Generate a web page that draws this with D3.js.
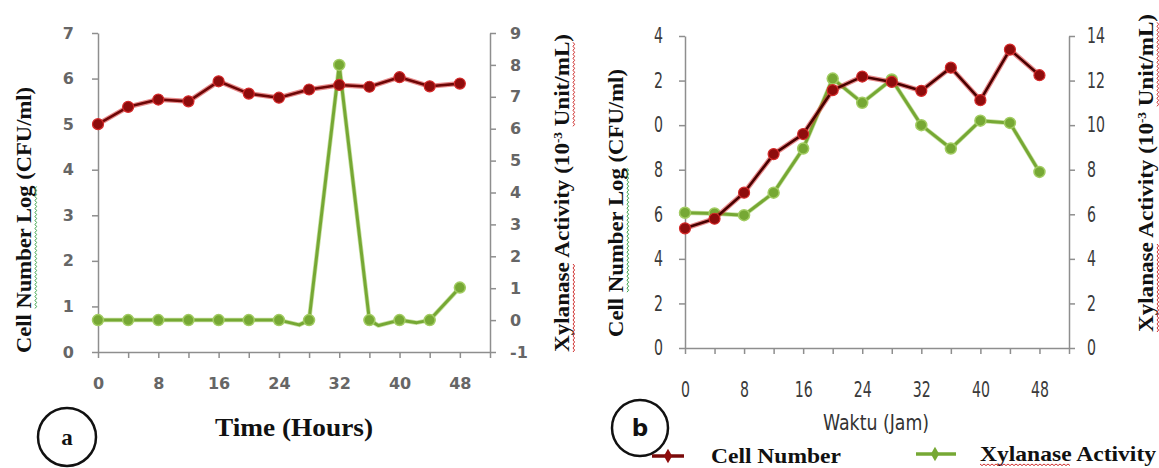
<!DOCTYPE html>
<html>
<head>
<meta charset="utf-8">
<script src="https://cdn.jsdelivr.net/npm/d3@7"></script>
<style>
    body { margin: 0; background: #fff; }
    svg { display: block; }
</style>
</head>
<body>
<div id="chart"></div>
<script>
// Panel a: Time (Hours)
const hoursA = [0, 4, 8, 12, 16, 20, 24, 28, 32, 36, 40, 44, 48];
const cellA = [5.0, 5.38, 5.54, 5.5, 5.94, 5.67, 5.58, 5.76, 5.86, 5.82, 6.03, 5.83, 5.89];
const xylHoursA = [0, 4, 8, 12, 16, 20, 24, 26.7, 28, 32, 36, 37.2, 40, 42.3, 44, 48];
const xylA = [0, 0, 0, 0, 0, 0, 0, -0.15, 0, 8.0, 0, -0.17, 0, -0.08, 0, 1.02];
const leftTicksA = [0, 1, 2, 3, 4, 5, 6, 7];
const rightTicksA = [-1, 0, 1, 2, 3, 4, 5, 6, 7, 8, 9];
const xLabelsA = [0, 8, 16, 24, 32, 40, 48];

// Panel b: Waktu (Jam)
const hoursB = [0, 4, 8, 12, 16, 20, 24, 28, 32, 36, 40, 44, 48];
const cellB = [5.37, 5.8, 6.97, 8.7, 9.6, 11.57, 12.18, 11.94, 11.54, 12.58, 11.12, 13.39, 12.24];
const xylB = [6.07, 6.04, 5.96, 6.97, 8.95, 12.09, 11.0, 12.05, 10.0, 8.95, 10.2, 10.1, 7.9];
const leftTicksB = [0, 2, 4, 6, 8, 10, 12, 14];
const leftTickTextB = ["0", "2", "4", "6", "8", "0", "2", "4"]; // clipped labels as printed
const rightTicksB = [0, 2, 4, 6, 8, 10, 12, 14];
const xLabelsB = [0, 8, 16, 24, 32, 40, 48];

// shared category ticks (one slot past the last sample)
const categoryTicks = [0, 4, 8, 12, 16, 20, 24, 28, 32, 36, 40, 44, 48, 52];

const colors = {
    cell: "#7a0a0a",
    cellHalo: "#d42a2a",
    xyl: "#76a834",
    xylLight: "#a2cc62",
    axis: "#8e8e8e",
    tick: "#666"
};

const serif = "'Liberation Serif', 'Times New Roman', serif";
const narrow = "'DejaVu Sans', sans-serif";
const wide = "'DejaVu Sans', Verdana, sans-serif";

const svg = d3.select("#chart").append("svg")
    .attr("width", 1159)
    .attr("height", 468);

function styleAxis(g, cfg) {
    g.selectAll("path, line").attr("stroke", colors.axis).attr("stroke-width", 1.5);
    const txt = g.selectAll("text")
        .attr("fill", cfg.tickColor)
        .style("font-family", cfg.tickFont)
        .style("font-weight", cfg.tickWeight)
        .style("font-size", cfg.tickSize + "px");
    // squeeze glyphs for the narrow (Calibri-like) panel
    if (cfg.digitWidth) {
        txt.each(function () {
            const n = this.textContent.length;
            if (n) d3.select(this).attr("textLength", n * cfg.digitWidth).attr("lengthAdjust", "spacingAndGlyphs");
        });
    }
}

function drawPanel(cfg) {
    const x = d3.scaleLinear().domain([0, 52]).range([cfg.left, cfg.right]);
    const yL = d3.scaleLinear().domain(cfg.leftDomain).range([cfg.bottom, cfg.top]);
    const yR = d3.scaleLinear().domain(cfg.rightDomain).range([cfg.bottom, cfg.top]);

    // x axis ticks
    const gx = svg.append("g")
        .attr("transform", `translate(0,${cfg.bottom})`)
        .call(d3.axisBottom(x).tickValues(categoryTicks).tickSize(6).tickSizeOuter(0).tickFormat(""));
    styleAxis(gx, cfg);

    // x labels
    const gxl = svg.append("g")
        .attr("transform", `translate(0,${cfg.bottom})`)
        .call(d3.axisBottom(x).tickValues(cfg.xLabels).tickSize(0).tickPadding(cfg.xPad));
    gxl.select(".domain").remove();
    styleAxis(gxl, cfg);

    // left axis
    const gl = svg.append("g")
        .attr("transform", `translate(${cfg.left},0)`)
        .call(d3.axisLeft(yL).tickValues(cfg.leftTicks).tickSize(6).tickSizeOuter(0)
            .tickPadding(cfg.leftPad)
            .tickFormat((d, i) => cfg.leftText ? cfg.leftText[i] : d));
    styleAxis(gl, cfg);

    // right axis
    const gr = svg.append("g")
        .attr("transform", `translate(${cfg.right},0)`)
        .call(d3.axisRight(yR).tickValues(cfg.rightTicks).tickSize(6).tickSizeOuter(0)
            .tickPadding(cfg.rightPad)
            .tickFormat(d => d < 0 ? "-" + Math.abs(d) : d));
    styleAxis(gr, cfg);

    const cellData = cfg.cellHours.map((h, i) => ({ h, v: cfg.cell[i] }));
    const xylData = cfg.xylHours.map((h, i) => ({ h, v: cfg.xyl[i] }));

    const lineL = d3.line().x(d => x(d.h)).y(d => yL(d.v));
    const lineR = d3.line().x(d => x(d.h)).y(d => yR(d.v));

    // Xylanase (right axis)
    svg.append("path").datum(xylData)
        .attr("fill", "none").attr("stroke", colors.xylLight).attr("stroke-width", 4.5)
        .attr("stroke-linejoin", "round").attr("opacity", 0.6).attr("d", lineR);
    svg.append("path").datum(xylData)
        .attr("fill", "none").attr("stroke", colors.xyl).attr("stroke-width", 3)
        .attr("stroke-linejoin", "round").attr("d", lineR);
    svg.append("g").selectAll("circle")
        .data(xylData.filter(d => d.h % 4 === 0))
        .join("circle")
        .attr("cx", d => x(d.h)).attr("cy", d => yR(d.v))
        .attr("r", cfg.markerR)
        .attr("fill", colors.xyl).attr("stroke", colors.xylLight).attr("stroke-width", 1.5);

    // Cell number (left axis)
    svg.append("path").datum(cellData)
        .attr("fill", "none").attr("stroke", colors.cellHalo).attr("stroke-width", 5)
        .attr("stroke-linejoin", "round").attr("opacity", 0.55).attr("d", lineL);
    svg.append("path").datum(cellData)
        .attr("fill", "none").attr("stroke", cfg.cellCore).attr("stroke-width", 2.6)
        .attr("stroke-linejoin", "round").attr("d", lineL);
    svg.append("g").selectAll("circle")
        .data(cellData)
        .join("circle")
        .attr("cx", d => x(d.h)).attr("cy", d => yL(d.v))
        .attr("r", cfg.markerR)
        .attr("fill", "#8e0c0c").attr("stroke", colors.cellHalo).attr("stroke-width", 1.2);
}

drawPanel({
    left: 98, right: 490, top: 33, bottom: 352,
    leftDomain: [0, 7], rightDomain: [-1, 9],
    leftTicks: leftTicksA, rightTicks: rightTicksA, xLabels: xLabelsA,
    cellHours: hoursA, cell: cellA, xylHours: xylHoursA, xyl: xylA,
    tickFont: wide, tickWeight: "bold", tickSize: 16, tickColor: colors.tick,
    xPad: 26, leftPad: 18, rightPad: 14,
    markerR: 5.5, cellCore: "#6e0606"
});

drawPanel({
    left: 685, right: 1069, top: 36, bottom: 348,
    leftDomain: [0, 14], rightDomain: [0, 14],
    leftTicks: leftTicksB, leftText: leftTickTextB, rightTicks: rightTicksB, xLabels: xLabelsB,
    cellHours: hoursB, cell: cellB, xylHours: hoursB, xyl: xylB,
    tickFont: narrow, tickWeight: "normal", tickSize: 21, tickColor: "#3a3a3a", digitWidth: 9,
    xPad: 34, leftPad: 16, rightPad: 12,
    markerR: 5.5, cellCore: "#4a0000"
});

// spell-check style wavy underline below a run of characters of a text node
function squiggle(parent, textNode, from, to, color, offset) {
    const x0 = textNode.getStartPositionOfChar(from).x;
    const x1 = textNode.getEndPositionOfChar(to).x;
    const y0 = textNode.getStartPositionOfChar(from).y + offset;
    let d = `M${x0},${y0}`;
    for (let xx = x0 + 2, k = 1; xx <= x1; xx += 2, k++) {
        d += `L${xx},${y0 + (k % 2 ? 1.6 : 0)}`;
    }
    parent.append("path").attr("d", d)
        .attr("fill", "none").attr("stroke", color).attr("stroke-width", 1);
}

// Axis titles
function vLabel(xPos, yMid, len, parts, marks) {
    const g = svg.append("g").attr("transform", `translate(${xPos},${yMid}) rotate(-90)`);
    const t = g.append("text")
        .attr("text-anchor", "middle")
        .attr("textLength", len)
        .attr("lengthAdjust", "spacingAndGlyphs")
        .style("font-family", serif)
        .style("font-weight", "bold")
        .style("font-size", "21px")
        .attr("fill", "#111");
    parts.forEach(p => {
        const s = t.append("tspan").text(p.text);
        if (p.sup) s.attr("dy", -7).style("font-size", "12px");
        if (p.after) s.attr("dy", 7);
    });
    marks.forEach(m => squiggle(g, t.node(), m[0], m[1], m[2], 4));
}

const cellTitle = [{ text: "Cell Number Log (CFU/ml)" }];
const cellMarks = [[5, 14, "#3aa34a"]];
const xylTitle = [{ text: "Xylanase Activity (10" }, { text: "-3", sup: true }, { text: " Unit/mL)", after: true }];
const xylMarks = [[0, 7, "#d03030"], [24, 30, "#d03030"]];

vLabel(31, 220, 266, cellTitle, cellMarks);
vLabel(569, 193, 318, xylTitle, xylMarks);
vLabel(623, 203, 268, cellTitle, cellMarks);
vLabel(1153, 173, 318, xylTitle, xylMarks);

// x titles
svg.append("text")
    .attr("x", 294).attr("y", 436)
    .attr("text-anchor", "middle")
    .attr("textLength", 158).attr("lengthAdjust", "spacingAndGlyphs")
    .style("font-family", serif).style("font-weight", "bold").style("font-size", "25px")
    .attr("fill", "#111")
    .text("Time (Hours)");

svg.append("text")
    .attr("x", 876).attr("y", 430)
    .attr("text-anchor", "middle")
    .attr("textLength", 106).attr("lengthAdjust", "spacingAndGlyphs")
    .style("font-family", narrow).style("font-size", "22px")
    .attr("fill", "#333")
    .text("Waktu (Jam)");

// panel badges
[{ cx: 67, cy: 437, r: 29, t: "a", font: serif }, { cx: 640, cy: 428, r: 28, t: "b", font: wide }]
    .forEach(b => {
        svg.append("circle").attr("cx", b.cx).attr("cy", b.cy).attr("r", b.r)
            .attr("fill", "none").attr("stroke", "#111").attr("stroke-width", 2.5);
        svg.append("text").attr("x", b.cx).attr("y", b.cy + 8)
            .attr("text-anchor", "middle")
            .style("font-family", b.font).style("font-weight", "bold").style("font-size", "23px")
            .attr("fill", "#111").text(b.t);
    });

// Legend
const legend = svg.append("g");
legend.append("line").attr("x1", 652).attr("x2", 684).attr("y1", 456).attr("y2", 456)
    .attr("stroke", colors.cell).attr("stroke-width", 3.5);
legend.append("path").attr("transform", "translate(668,456)")
    .attr("d", d3.symbol(d3.symbolDiamond, 60)).attr("fill", "#8e0c0c");
legend.append("text").attr("x", 711).attr("y", 463)
    .attr("textLength", 130).attr("lengthAdjust", "spacingAndGlyphs")
    .style("font-family", serif).style("font-weight", "bold").style("font-size", "21px")
    .attr("fill", "#111").text("Cell Number");

legend.append("line").attr("x1", 916).attr("x2", 956).attr("y1", 454).attr("y2", 454)
    .attr("stroke", colors.xyl).attr("stroke-width", 3.5);
legend.append("path").attr("transform", "translate(935,454)")
    .attr("d", d3.symbol(d3.symbolDiamond, 60)).attr("fill", colors.xyl);
const legText = legend.append("text").attr("x", 980).attr("y", 461)
    .attr("textLength", 176).attr("lengthAdjust", "spacingAndGlyphs")
    .style("font-family", serif).style("font-weight", "bold").style("font-size", "21px")
    .attr("fill", "#111").text("Xylanase Activity");
squiggle(legend, legText.node(), 0, 7, "#d03030", 3);
</script>
</body>
</html>
